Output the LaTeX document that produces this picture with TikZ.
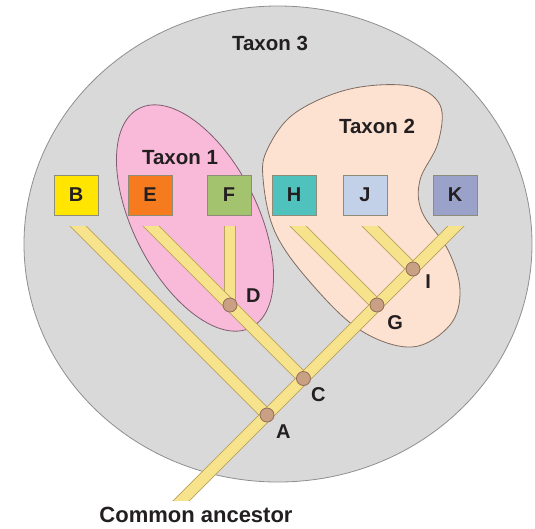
\documentclass[tikz,border=0pt]{standalone}
\usepackage{fontspec}
\setmainfont{Liberation Sans}
\usepackage{tikz}
\usetikzlibrary{positioning}

\definecolor{taxgray}{HTML}{D9D9D9}
\definecolor{rimgray}{HTML}{8F8F8F}
\definecolor{pinkfill}{HTML}{F8BAD8}
\definecolor{pinkline}{HTML}{7E5D6E}
\definecolor{peachfill}{HTML}{FDE2D2}
\definecolor{peachline}{HTML}{7F6B5F}
\definecolor{boxline}{HTML}{8C8C78}
\definecolor{clrB}{HTML}{FFE500}
\definecolor{clrE}{HTML}{F57B1E}
\definecolor{clrF}{HTML}{A4C36F}
\definecolor{clrH}{HTML}{4FC2BD}
\definecolor{clrJ}{HTML}{C3D1E8}
\definecolor{clrK}{HTML}{9BA2CA}
\definecolor{branchfill}{HTML}{F8E38D}
\definecolor{branchline}{HTML}{B9A25C}
\definecolor{juncfill}{HTML}{C9A083}
\definecolor{juncline}{HTML}{8E6E58}
\definecolor{txt}{HTML}{231F20}

\begin{document}
\begin{tikzpicture}[x=1pt, y=-1pt, every node/.style={font=\bfseries\fontsize{20}{22}\selectfont, text=txt},
	big/.style={font=\bfseries\fontsize{20.5}{24}\selectfont},
	taxbox/.style={draw=boxline, line width=0.8pt, minimum width=44pt, minimum height=40pt, inner sep=0pt},
	branch/.style={draw=branchline, line width=0.8pt, double=branchfill, double distance=10.5pt},
	junc/.style={fill=juncfill, draw=juncline, line width=0.8pt},
	lab/.style={inner sep=0pt}]
	\useasboundingbox (0,0) rectangle (535,528);
	% the three nested groups
	\filldraw[fill=taxgray, draw=rimgray, line width=0.8pt] (278,244) ellipse [x radius=254pt, y radius=238pt];
	\filldraw[fill=pinkfill, draw=pinkline, line width=0.8pt] (195,218) ellipse [x radius=123pt, y radius=62pt, rotate=-63];
	\filldraw[fill=peachfill, draw=peachline, line width=0.8pt] plot[smooth cycle, tension=0.6] coordinates {(263,178) (275,232) (310,282) (360,330) (412,347) (450,325) (460,290) (448,250) (422,212) (420,180) (438,143) (440,105) (410,86) (350,89) (295,113) (268,148)};
	\node[big] (t3) at (270,43) {Taxon 3};
	\node[big] (t2) at (377,126) {Taxon 2};
	\node[big] (t1) at (180,158) {Taxon 1};
	% species
	\foreach \n/\x in {B/76, E/150, F/229, H/294, J/365, K/455}
		\node[taxbox, fill=clr\n] (\n) at (\x,195) {\n};
	% branch points
	\coordinate (A) at (267,415);
	\coordinate (C) at (303.5,378.5);
	\coordinate (D) at (230,305);
	\coordinate (G) at (377,305);
	\coordinate (I) at (413,269);
	\coordinate (root) at (182,500);
	\foreach \n/\x in {B/78, E/151, F/230, H/298, J/370, K/456}
		\coordinate (tip\n) at (\x,226);
	\begin{scope}
		\clip (0,226) rectangle (535,500);
		\draw[branch, shorten <=-15pt] (tipF) -- (D);
		\draw[branch, shorten <=-15pt] (tipE) -- (C);
		\draw[branch, shorten <=-15pt] (tipB) -- (A);
		\draw[branch, shorten <=-15pt] (tipH) -- (G);
		\draw[branch, shorten <=-15pt] (tipJ) -- (I);
		\draw[branch, shorten <=-15pt, shorten >=-15pt] (root) -- (tipK);
	\end{scope}
	\foreach \j in {A,C,D,G,I}
		\draw[junc] (\j) circle (7pt);
	\node[lab, below right=9.8pt and 8.8pt of A] (lA) {A};
	\node[lab, below right=9.3pt and 7.3pt of C] (lC) {C};
	\node[lab, above right=2.8pt and 15.8pt of D] (lD) {D};
	\node[lab, below right=10.8pt and 10.2pt of G] (lG) {G};
	\node[lab, below right=5.8pt and 12.2pt of I] (lI) {I};
	\node[big, font=\bfseries\fontsize{22}{24}\selectfont] (anc) at (196,515) {Common ancestor};
\end{tikzpicture}
\end{document}
